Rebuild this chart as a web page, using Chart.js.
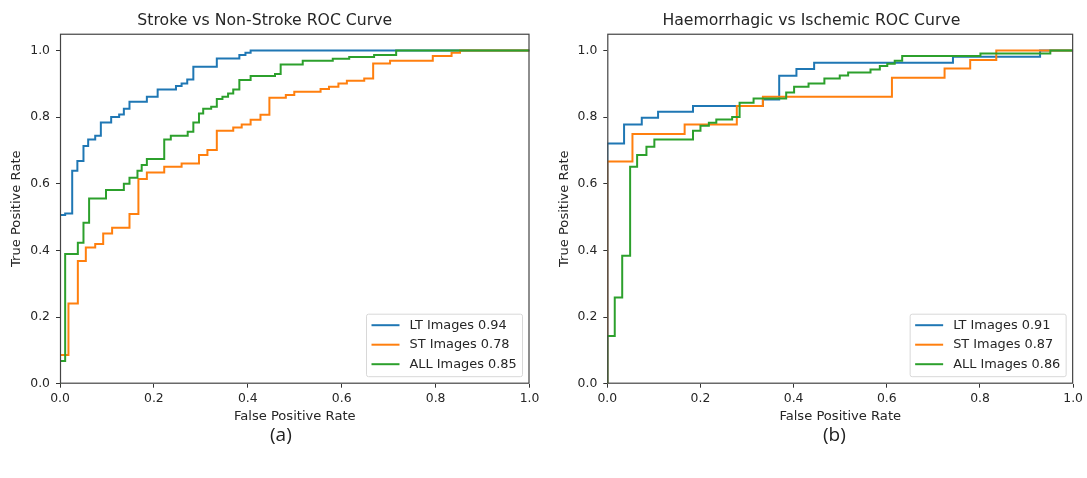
<!DOCTYPE html>
<html>
<head>
<meta charset="utf-8">
<script src="https://cdn.jsdelivr.net/npm/chart.js@4"></script>
<style>
  body { margin: 0; background: #fff; width: 1087px; height: 478px; position: relative; overflow: hidden; }
  .wrap { position: absolute; top: 0; }
  .cap { position: absolute; top: 421px; font-family: "Open Sans", "Liberation Sans", sans-serif; font-size: 19px; color: #222; }
</style>
</head>
<body>
<div class="wrap" style="left:0px; width:545px; height:440px;"><canvas id="chartA"></canvas></div>
<div class="wrap" style="left:548px; width:539px; height:440px;"><canvas id="chartB"></canvas></div>
<div class="cap" style="left:270px;">(a)</div>
<div class="cap" style="left:823px;">(b)</div>
<script>
// Stroke vs Non-Stroke (a)
const aLtFpr = [0, 0, 0.011, 0.026, 0.037, 0.050, 0.060, 0.075, 0.087, 0.109, 0.126, 0.136, 0.148, 0.185, 0.208, 0.247, 0.259, 0.271, 0.284, 0.334, 0.382, 0.395, 0.406, 1.0];
const aLtTpr = [0, 0.506, 0.511, 0.639, 0.668, 0.713, 0.733, 0.744, 0.784, 0.800, 0.808, 0.825, 0.846, 0.861, 0.883, 0.893, 0.901, 0.913, 0.951, 0.976, 0.986, 0.993, 1.0, 1.0];

const aStFpr = [0, 0, 0.018, 0.038, 0.055, 0.075, 0.092, 0.111, 0.148, 0.167, 0.185, 0.222, 0.259, 0.296, 0.314, 0.334, 0.369, 0.387, 0.406, 0.427, 0.446, 0.481, 0.499, 0.555, 0.573, 0.593, 0.611, 0.648, 0.667, 0.703, 0.794, 0.834, 0.852, 1.0];
const aStTpr = [0, 0.086, 0.241, 0.368, 0.409, 0.419, 0.451, 0.468, 0.509, 0.614, 0.634, 0.651, 0.661, 0.686, 0.701, 0.759, 0.769, 0.778, 0.792, 0.807, 0.858, 0.866, 0.876, 0.884, 0.891, 0.901, 0.909, 0.916, 0.961, 0.969, 0.983, 0.993, 1.0, 1.0];

const aAllFpr = [0, 0, 0.011, 0.038, 0.050, 0.062, 0.098, 0.136, 0.148, 0.165, 0.174, 0.185, 0.222, 0.236, 0.272, 0.284, 0.296, 0.305, 0.322, 0.334, 0.346, 0.358, 0.369, 0.382, 0.406, 0.458, 0.470, 0.517, 0.581, 0.616, 0.669, 0.716, 1.0];
const aAllTpr = [0, 0.068, 0.389, 0.423, 0.483, 0.556, 0.581, 0.600, 0.618, 0.639, 0.656, 0.674, 0.733, 0.744, 0.756, 0.784, 0.811, 0.825, 0.831, 0.854, 0.861, 0.871, 0.883, 0.911, 0.923, 0.929, 0.958, 0.969, 0.975, 0.980, 0.986, 1.0, 1.0];

// Haemorrhagic vs Ischemic (b)
const bLtFpr = [0, 0, 0.036, 0.074, 0.109, 0.184, 0.334, 0.369, 0.406, 0.444, 0.742, 0.929, 1.0];
const bLtTpr = [0, 0.721, 0.778, 0.798, 0.816, 0.833, 0.853, 0.924, 0.944, 0.963, 0.981, 1.0, 1.0];

const bStFpr = [0, 0, 0.054, 0.166, 0.278, 0.334, 0.611, 0.724, 0.779, 0.835, 1.0];
const bStTpr = [0, 0.667, 0.749, 0.778, 0.833, 0.861, 0.918, 0.946, 0.971, 1.0, 1.0];

const bAllFpr = [0, 0, 0.016, 0.032, 0.049, 0.064, 0.084, 0.101, 0.184, 0.200, 0.218, 0.234, 0.268, 0.284, 0.314, 0.384, 0.401, 0.432, 0.466, 0.499, 0.517, 0.565, 0.585, 0.601, 0.617, 0.633, 0.801, 0.951, 1.0];
const bAllTpr = [0, 0.143, 0.259, 0.384, 0.651, 0.686, 0.711, 0.733, 0.759, 0.774, 0.783, 0.793, 0.800, 0.843, 0.856, 0.874, 0.891, 0.901, 0.916, 0.925, 0.934, 0.943, 0.953, 0.960, 0.969, 0.983, 0.991, 1.0, 1.0];

const aLabels = ['LT Images 0.94', 'ST Images 0.78', 'ALL Images 0.85'];
const bLabels = ['LT Images 0.91', 'ST Images 0.87', 'ALL Images 0.86'];
const xTicks = [0, 0.2, 0.4, 0.6, 0.8, 1.0];
const yTicks = [0, 0.2, 0.4, 0.6, 0.8, 1.0];

const colors = ['#1f77b4', '#ff7f0e', '#2ca02c'];
const fontFamily = '"DejaVu Sans", sans-serif';
const textColor = '#262626';

function toPoints(xs, ys) {
    return xs.map((x, i) => ({ x: x, y: ys[i] }));
}

// draws the axes frame and a matplotlib-like legend inside the plot
const framePlugin = {
    id: 'frame',
    afterDraw(chart) {
        const ctx = chart.ctx;
        const a = chart.chartArea;
        ctx.save();
        ctx.strokeStyle = '#444';
        ctx.lineWidth = 1.2;
        ctx.strokeRect(a.left + 0.5, a.top + 0.5, a.right - a.left - 1, a.bottom - a.top - 1);

        // legend box
        const boxW = 156, rowH = 19.5;
        const n = chart.data.datasets.length;
        const boxH = n * rowH + 4;
        const bx = a.right - 7 - boxW;
        const by = a.bottom - 7 - boxH;
        ctx.fillStyle = 'rgba(255,255,255,0.8)';
        ctx.strokeStyle = '#d8d8d8';
        ctx.lineWidth = 1;
        ctx.beginPath();
        ctx.roundRect(bx, by, boxW, boxH, 2);
        ctx.fill();
        ctx.stroke();
        ctx.font = '12.9px ' + fontFamily;
        ctx.textBaseline = 'middle';
        chart.data.datasets.forEach((ds, i) => {
            const cy = by + 11 + i * rowH;
            ctx.strokeStyle = ds.borderColor;
            ctx.lineWidth = 2;
            ctx.beginPath();
            ctx.moveTo(bx + 5, cy);
            ctx.lineTo(bx + 33, cy);
            ctx.stroke();
            ctx.fillStyle = textColor;
            ctx.fillText(ds.label, bx + 43, cy);
        });
        ctx.restore();
    }
};

function createChart(id, title, labels, xsList, ysList, leftWidth, rightPad) {
    const ctx = document.getElementById(id).getContext('2d');
    return new Chart(ctx, {
        type: 'line',
        data: {
            datasets: labels.map((label, i) => ({
                label: label,
                data: toPoints(xsList[i], ysList[i]),
                borderColor: colors[i],
                backgroundColor: colors[i],
                borderWidth: 2,
                pointRadius: 0,
                stepped: 'before',
                fill: false,
                clip: 0,
                order: 3 - i
            }))
        },
        options: {
            responsive: true,
            maintainAspectRatio: false,
            animation: false,
            layout: { padding: { left: 0, right: rightPad, top: 0, bottom: 0 } },
            plugins: {
                legend: { display: false },
                tooltip: { enabled: false },
                title: {
                    display: true,
                    text: title,
                    color: textColor,
                    font: { family: fontFamily, size: 15.7, weight: 'normal' },
                    padding: { top: 11.3, bottom: 3.6 }
                }
            },
            scales: {
                x: {
                    type: 'linear',
                    min: 0,
                    max: 1,
                    afterBuildTicks: scale => { scale.ticks = xTicks.map(v => ({ value: v })); },
                    afterFit: scale => { scale.height = 56.3; },
                    ticks: {
                        color: textColor,
                        font: { family: fontFamily, size: 12.4 },
                        padding: 4,
                        maxRotation: 0,
                        callback: v => v.toFixed(1)
                    },
                    grid: { drawOnChartArea: false, drawTicks: true, tickLength: 4, color: '#333' },
                    border: { display: false },
                    title: {
                        display: true,
                        text: 'False Positive Rate',
                        color: textColor,
                        font: { family: fontFamily, size: 13.1 },
                        padding: { top: 0, bottom: 15.4 }
                    }
                },
                y: {
                    type: 'linear',
                    min: 0,
                    max: 1.05,
                    afterBuildTicks: scale => { scale.ticks = yTicks.map(v => ({ value: v })); },
                    afterFit: scale => { scale.width = leftWidth; },
                    ticks: {
                        color: textColor,
                        font: { family: fontFamily, size: 12.4 },
                        padding: 6,
                        callback: v => v.toFixed(1)
                    },
                    grid: { drawOnChartArea: false, drawTicks: true, tickLength: 4, color: '#333' },
                    border: { display: false },
                    title: {
                        display: true,
                        text: 'True Positive Rate',
                        color: textColor,
                        font: { family: fontFamily, size: 13.1 },
                        padding: { top: 8.8, bottom: 0 }
                    }
                }
            }
        },
        plugins: [framePlugin]
    });
}

createChart('chartA', 'Stroke vs Non-Stroke ROC Curve', aLabels,
    [aLtFpr, aStFpr, aAllFpr], [aLtTpr, aStTpr, aAllTpr], 60, 15.5);
createChart('chartB', 'Haemorrhagic vs Ischemic ROC Curve', bLabels,
    [bLtFpr, bStFpr, bAllFpr], [bLtTpr, bStTpr, bAllTpr], 59.3, 12.2);
</script>
</body>
</html>
